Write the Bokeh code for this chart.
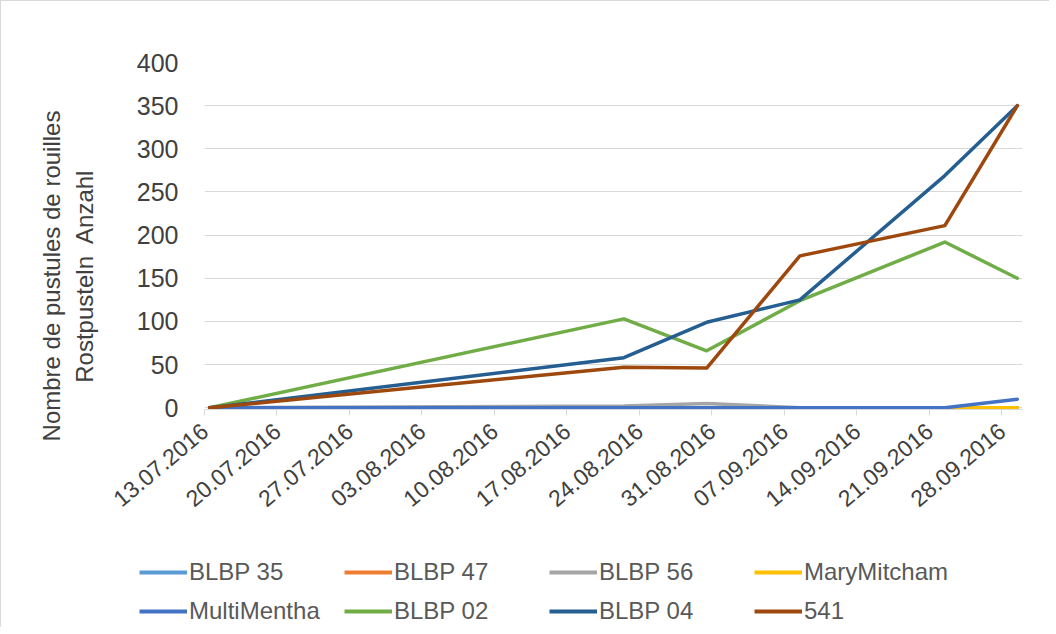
import math
from datetime import datetime, timedelta

from bokeh.plotting import figure
from bokeh.layouts import column
from bokeh.models import (Range1d, FixedTicker, DatetimeTickFormatter, Legend,
                          LegendItem, ColumnDataSource)
from bokeh.embed import file_html
from bokeh.resources import INLINE

# ---------------- data ----------------
dates = ["13.07.2016", "22.08.2016", "30.08.2016", "08.09.2016", "22.09.2016", "29.09.2016"]

blbp35 = [0, 0, 0, 0, 0, 0]
blbp47 = [0, 0, 0, 0, 0, 0]
blbp56 = [0, 2, 5, 0, 0, 0]
marymitcham = [0, 0, 0, 0, 0, 0]
multimentha = [0, 0, 0, 0, 0, 10]
blbp02 = [0, 103, 66, 124, 192, 150]
blbp04 = [0, 58, 99, 125, 269, 350]
s541 = [0, 47, 46, 176, 211, 350]

series_names = ["BLBP 35", "BLBP 47", "BLBP 56", "MaryMitcham",
                "MultiMentha", "BLBP 02", "BLBP 04", "541"]
series_values = [blbp35, blbp47, blbp56, marymitcham,
                 multimentha, blbp02, blbp04, s541]
series_colors = ["#5B9BD5", "#ED7D31", "#A5A5A5", "#FFC000",
                 "#4472C4", "#70AD47", "#255E91", "#9E480E"]

tick_labels = ["13.07.2016", "20.07.2016", "27.07.2016", "03.08.2016",
               "10.08.2016", "17.08.2016", "24.08.2016", "31.08.2016",
               "07.09.2016", "14.09.2016", "21.09.2016", "28.09.2016"]

y_label_lines = ["Nombre de pustules de rouilles", "Rostpusteln\u00a0 Anzahl"]

# ---------------- helpers ----------------
def parse(d):
    return datetime.strptime(d, "%d.%m.%Y")

EPOCH = datetime(1970, 1, 1)

def to_ms(dt):
    return (dt - EPOCH).total_seconds() * 1000.0

# points sit in the middle of each day (between-tick-marks date axis)
x_pts = [parse(d) + timedelta(hours=12) for d in dates]
tick_ms = [to_ms(parse(t)) for t in tick_labels]

FONT = "Liberation Sans"
TXT = "#595959"
DARK = "#404040"
GRID = "#D9D9D9"
W = 1048

p = figure(width=W, height=540, x_axis_type="datetime",
           output_backend="svg", toolbar_location=None,
           x_range=Range1d(parse("13.07.2016"), parse("30.09.2016")),
           y_range=Range1d(-2, 400),
           min_border_left=203, min_border_right=27,
           min_border_top=61, min_border_bottom=132)
p.frame_align = False
p.outline_line_color = None
p.background_fill_color = "white"
p.border_fill_color = "white"

# grid
p.xgrid.grid_line_color = None
p.ygrid.grid_line_color = GRID
p.ygrid.grid_line_width = 1
p.yaxis.ticker = FixedTicker(ticks=[0, 50, 100, 150, 200, 250, 300, 350, 400])

# y axis
p.yaxis.axis_line_color = None
p.yaxis.major_tick_line_color = None
p.yaxis.minor_tick_line_color = None
p.yaxis.major_label_text_font = FONT
p.yaxis.major_label_text_font_size = "25px"
p.yaxis.major_label_text_color = DARK
p.yaxis.major_label_standoff = 20
# trailing no-break spaces shift the centred label toward the bottom like the reference
pad = "\u00a0" * 12
p.yaxis.axis_label = "\n".join(line + pad for line in y_label_lines)
p.yaxis.axis_label_text_font = FONT
p.yaxis.axis_label_text_font_size = "24px"
p.yaxis.axis_label_text_font_style = "normal"
p.yaxis.axis_label_text_color = DARK
p.yaxis.axis_label_standoff = 36

# x axis
p.xaxis.ticker = FixedTicker(ticks=tick_ms)
fmt = "%d.%m.%Y"
p.xaxis.formatter = DatetimeTickFormatter(
    microseconds=fmt, milliseconds=fmt, seconds=fmt, minsec=fmt,
    minutes=fmt, hourmin=fmt, hours=fmt, days=fmt, months=fmt, years=fmt)
p.xaxis.axis_line_color = GRID
p.xaxis.major_tick_line_color = GRID
p.xaxis.major_tick_out = 6
p.xaxis.major_tick_in = 0
p.xaxis.minor_tick_line_color = None
p.xaxis.major_label_orientation = math.radians(40)
p.xaxis.major_label_text_font = FONT
p.xaxis.major_label_text_font_size = "23px"
p.xaxis.major_label_text_color = DARK
p.xaxis.major_label_standoff = 12

# lines
for name, vals, col in zip(series_names, series_values, series_colors):
    src = ColumnDataSource(dict(x=x_pts, y=vals))
    p.line("x", "y", source=src, line_color=col, line_width=3.5,
           line_join="round", line_cap="round")

# ---------------- legend strip ----------------
lg = figure(width=W, height=86, output_backend="svg", toolbar_location=None,
            x_range=Range1d(0, 1), y_range=Range1d(0, 1),
            x_axis_location=None, y_axis_location=None,
            min_border_left=0, min_border_right=0,
            min_border_top=0, min_border_bottom=0)
lg.frame_align = False
lg.outline_line_color = None
lg.xgrid.grid_line_color = None
lg.ygrid.grid_line_color = None
lg.background_fill_color = "white"
lg.border_fill_color = "white"

items = []
for name, vals, col in zip(series_names, series_values, series_colors):
    # same series data; it falls outside this strip's ranges, only the legend key shows
    r = lg.line(x=[to_ms(x) for x in x_pts], y=vals, line_color=col, line_width=4)
    items.append(LegendItem(label=name, renderers=[r]))

legend = Legend(items=items, orientation="horizontal", ncols=4,
                location=(138, 1),
                label_text_font=FONT, label_text_font_size="24px",
                label_text_color=TXT, glyph_width=48, glyph_height=30,
                label_height=30, label_width=146, label_standoff=2,
                spacing=9, padding=0, margin=0,
                border_line_color=None, background_fill_alpha=0)
lg.add_layout(legend, "center")

layout = column(p, lg, spacing=0)
layout.styles = {"border-top": "1px solid #D9D9D9", "border-left": "1px solid #D9D9D9"}

open("out.html", "w").write(file_html(layout, INLINE))
